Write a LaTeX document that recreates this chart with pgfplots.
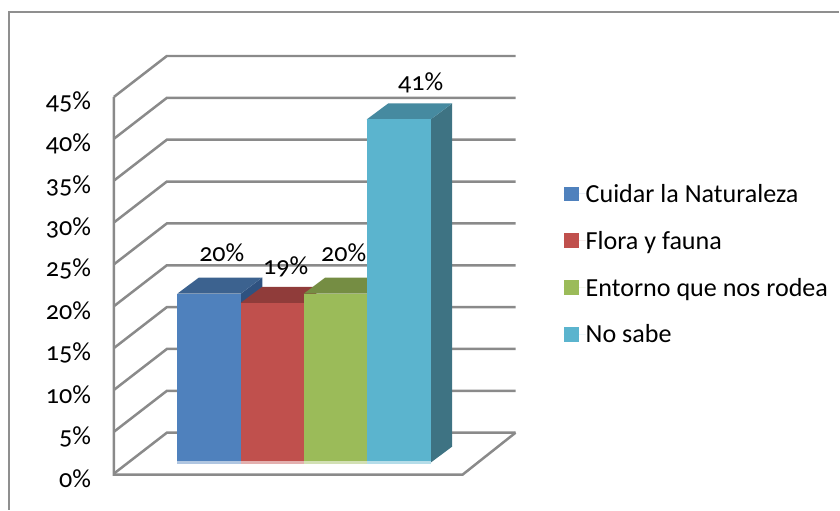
\documentclass[border=0pt]{standalone}
\usepackage{pgfplots}
\pgfplotsset{compat=1.18}
\usepackage{fontspec}
\setmainfont[Numbers=OldStyle]{Carlito}
\definecolor{cgrid}{HTML}{8A8A8A}
\definecolor{cframe}{HTML}{8F8F8F}
\definecolor{cblue}{HTML}{4F81BD}
\definecolor{cred}{HTML}{C0504D}
\definecolor{cgreen}{HTML}{9BBB59}
\definecolor{ccyan}{HTML}{5BB4CE}
\definecolor{tblue}{HTML}{3C628F}
\definecolor{sblue}{HTML}{2F5280}
\definecolor{tred}{HTML}{903C3A}
\definecolor{tgreen}{HTML}{758D43}
\definecolor{tcyan}{HTML}{468AA0}
\definecolor{scyan}{HTML}{3E7383}
\newcommand{\fs}{\fontsize{26.2}{31}\selectfont}
\pgfplotsset{
  swatch/.style={legend image code/.code={\fill[##1, draw=none] (0bp,-7.5bp) rectangle (15bp,7.5bp); \path[draw=none] (0bp,0bp) -- (22bp,0bp);}},
}
\begin{document}
\begin{tikzpicture}[x=1bp,y=1bp]
\begin{axis}[
  scale only axis, width=402bp, height=418bp,
  xmin=114, xmax=516, ymin=0, ymax=49.89,
  clip=false,
  axis line style={draw=none},
  xtick=\empty,
  ytick={0,5,10,15,20,25,30,35,40,45},
  major tick length=0pt,
  /pgf/number format/assume math mode=true,
  yticklabel={\pgfmathprintnumber{\tick}\%},
  yticklabel style={font=\fs, anchor=east, xshift=-19.5bp, yshift=-5bp},
  legend style={draw=none, fill=none, at={(axis cs:564,34.6)}, anchor=north west,
    font=\fs, row sep=27.3bp, inner sep=0pt, nodes={inner sep=0pt, anchor=west}},
  legend cell align=left,
]
% invisible page extent
\path (axis cs:0,-4.297) rectangle (axis cs:840,56.58);
% chart frame
\addplot[cframe, line width=1.5bp, forget plot] coordinates {(9,-4.297) (9,55.14) (840,55.14)};
% back wall gridlines
\addplot[cgrid, line width=2.5bp, forget plot] coordinates {(114,0) (167,4.89) (516,4.89)};
\addplot[cgrid, line width=2.5bp, forget plot] coordinates {(114,5) (167,9.89) (516,9.89)};
\addplot[cgrid, line width=2.5bp, forget plot] coordinates {(114,10) (167,14.89) (516,14.89)};
\addplot[cgrid, line width=2.5bp, forget plot] coordinates {(114,15) (167,19.89) (516,19.89)};
\addplot[cgrid, line width=2.5bp, forget plot] coordinates {(114,20) (167,24.89) (516,24.89)};
\addplot[cgrid, line width=2.5bp, forget plot] coordinates {(114,25) (167,29.89) (516,29.89)};
\addplot[cgrid, line width=2.5bp, forget plot] coordinates {(114,30) (167,34.89) (516,34.89)};
\addplot[cgrid, line width=2.5bp, forget plot] coordinates {(114,35) (167,39.89) (516,39.89)};
\addplot[cgrid, line width=2.5bp, forget plot] coordinates {(114,40) (167,44.89) (516,44.89)};
\addplot[cgrid, line width=2.5bp, forget plot] coordinates {(114,45) (167,49.89) (516,49.89)};
% left wall and floor
\addplot[cgrid, line width=2.5bp, forget plot] coordinates {(114,45) (114,-0.12) (463,-0.12) (516,4.89)};
% bar 1: 20%
\addplot[fill=sblue, draw=none, forget plot] coordinates {(241,1.31) (262.5,3.22) (262.5,23.42) (241,21.5)};
\addplot[fill=tblue, draw=none, forget plot] coordinates {(177.5,21.5) (199,23.42) (262.5,23.42) (241,21.5)};
\addplot[fill=cblue, draw=none, forget plot] coordinates {(177.5,1.31) (177.5,21.5) (241,21.5) (241,1.31)};
\addplot[fill=cblue!45!white, draw=none, forget plot] coordinates {(177.5,1.19) (177.5,1.49) (241,1.49) (241,1.19)};
% bar 2: 19%
\addplot[fill=tred, draw=none, forget plot] coordinates {(241,20.41) (262.5,22.32) (325.5,22.32) (304,20.41)};
\addplot[fill=cred, draw=none, forget plot] coordinates {(241,1.31) (241,20.41) (304,20.41) (304,1.31)};
\addplot[fill=cred!45!white, draw=none, forget plot] coordinates {(241,1.19) (241,1.49) (304,1.49) (304,1.19)};
% bar 3: 20%
\addplot[fill=tgreen, draw=none, forget plot] coordinates {(304,21.5) (325.5,23.42) (388.5,23.42) (367,21.5)};
\addplot[fill=cgreen, draw=none, forget plot] coordinates {(304,1.31) (304,21.5) (367,21.5) (367,1.31)};
\addplot[fill=cgreen!45!white, draw=none, forget plot] coordinates {(304,1.19) (304,1.49) (367,1.49) (367,1.19)};
% bar 4: 41%
\addplot[fill=scyan, draw=none, forget plot] coordinates {(431,1.31) (452.5,3.22) (452.5,44.22) (431,42.31)};
\addplot[fill=tcyan, draw=none, forget plot] coordinates {(367,42.31) (388.5,44.22) (452.5,44.22) (431,42.31)};
\addplot[fill=ccyan, draw=none, forget plot] coordinates {(367,1.31) (367,42.31) (431,42.31) (431,1.31)};
\addplot[fill=ccyan!45!white, draw=none, forget plot] coordinates {(367,1.19) (367,1.49) (431,1.49) (431,1.19)};
% data labels
\node[font=\fs, inner sep=0pt] at (axis cs:222,26.4) {20\%};
\node[font=\fs, inner sep=0pt] at (axis cs:286,24.7) {19\%};
\node[font=\fs, inner sep=0pt] at (axis cs:344,26.4) {20\%};
\node[font=\fs, inner sep=0pt] at (axis cs:421,46.7) {41\%};
% legend
\addlegendimage{swatch, fill=cblue}
\addlegendentry{Cuidar la Naturaleza}
\addlegendimage{swatch, fill=cred}
\addlegendentry{Flora y fauna}
\addlegendimage{swatch, fill=cgreen}
\addlegendentry{Entorno que nos rodea}
\addlegendimage{swatch, fill=ccyan}
\addlegendentry{No sabe}
\end{axis}
\end{tikzpicture}
\end{document}
